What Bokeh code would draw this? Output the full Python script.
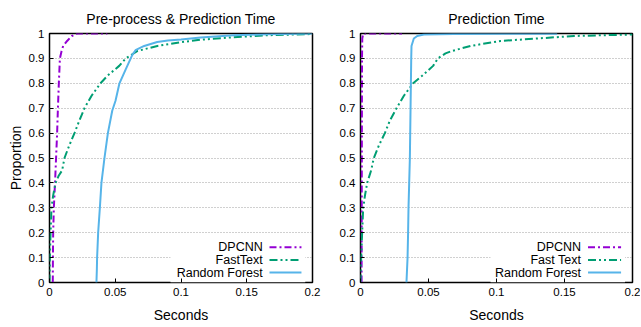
from bokeh.plotting import figure
from bokeh.models import Range1d, FixedTicker, BoxAnnotation, Label
from bokeh.layouts import row
from bokeh.embed import file_html
from bokeh.resources import INLINE

# ---------------- data ----------------
# Left panel: Pre-process & Prediction Time
DPCNN_PP_X = [0.0025, 0.0026, 0.0028, 0.0033, 0.0042, 0.0050, 0.0058, 0.0064, 0.0071,
              0.0079, 0.0092, 0.0104, 0.0134, 0.0170, 0.0210, 0.0440]
DPCNN_PP_Y = [0.0, 0.1, 0.2, 0.3, 0.4, 0.5, 0.6, 0.7, 0.8, 0.9, 0.93, 0.95, 0.97, 0.99, 1.0, 1.0]

FASTTEXT_PP_X = [0.0, 0.0003, 0.0008, 0.0015, 0.0028, 0.0046, 0.0071, 0.0096, 0.0114, 0.0150,
                 0.0190, 0.0227, 0.0266, 0.0320, 0.0388, 0.0440, 0.0530, 0.0580, 0.0670,
                 0.0820, 0.1000, 0.1150, 0.1400, 0.1650, 0.2000]
FASTTEXT_PP_Y = [0.0, 0.1, 0.2, 0.3, 0.35, 0.4, 0.43, 0.45, 0.5, 0.55, 0.6, 0.65, 0.7, 0.75,
                 0.8, 0.83, 0.87, 0.9, 0.93, 0.95, 0.965, 0.975, 0.985, 0.993, 0.998]

RF_PP_X = [0.0357, 0.0360, 0.0362, 0.0370, 0.0383, 0.0395, 0.0418, 0.0444, 0.0477, 0.0502,
           0.0532, 0.0583, 0.0629, 0.0654, 0.0720, 0.0819, 0.0900, 0.1000, 0.1150, 0.1400,
           0.1650, 0.2000]
RF_PP_Y = [0.0, 0.05, 0.1, 0.2, 0.3, 0.4, 0.5, 0.6, 0.69, 0.73, 0.8, 0.86, 0.913, 0.933,
           0.95, 0.966, 0.972, 0.976, 0.984, 0.993, 0.997, 1.0]

# Right panel: Prediction Time
DPCNN_P_X = [0.0008, 0.0009, 0.0010, 0.0011, 0.0013, 0.0020, 0.0305]
DPCNN_P_Y = [0.0, 0.3, 0.6, 0.9, 0.98, 1.0, 1.0]

FASTTEXT_P_X = [0.0, 0.0005, 0.0012, 0.0020, 0.0033, 0.0049, 0.0078, 0.0098, 0.0135, 0.0179,
                0.0216, 0.0265, 0.0319, 0.0387, 0.0453, 0.0534, 0.0569, 0.0625, 0.0674,
                0.0809, 0.1030, 0.1300, 0.1570, 0.2000]
FASTTEXT_P_Y = [0.0, 0.1, 0.2, 0.3, 0.35, 0.4, 0.45, 0.5, 0.55, 0.6, 0.65, 0.7, 0.75, 0.8,
                0.83, 0.87, 0.9, 0.92, 0.93, 0.95, 0.97, 0.98, 0.99, 0.996]

RF_P_X = [0.0338, 0.0346, 0.0350, 0.0353, 0.0358, 0.0363, 0.0368, 0.0373, 0.0375, 0.0392,
          0.0417, 0.0466, 0.0686, 0.1446]
RF_P_Y = [0.0, 0.1, 0.2, 0.3, 0.4, 0.5, 0.7, 0.9, 0.95, 0.98, 0.99, 0.996, 0.998, 0.999]

TITLES = ["Pre-process & Prediction Time", "Prediction Time"]
LEGEND_LABELS_PP = ["DPCNN", "FastText", "Random Forest"]
LEGEND_LABELS_P = ["DPCNN", "Fast Text", "Random Forest"]

X_TICKS = [0.0, 0.05, 0.1, 0.15, 0.2]
X_TICK_LABELS = ["0", "0.05", "0.1", "0.15", "0.2"]
Y_TICKS = [0.0, 0.1, 0.2, 0.3, 0.4, 0.5, 0.6, 0.7, 0.8, 0.9, 1.0]
Y_TICK_LABELS = ["0", "0.1", "0.2", "0.3", "0.4", "0.5", "0.6", "0.7", "0.8", "0.9", "1"]

X_LABEL = "Seconds"
Y_LABEL = "Proportion"

# ---------------- styles ----------------
COLORS = ["#9400D3", "#009E73", "#56B4E9"]
DASHES = ["7 3 2 3", "8 3 2 3 2 3", "solid"]
FONT = "Liberation Sans"


def make_panel(title, series, labels, frame_w, b_left, b_right, ylabel, box_left):
    p = figure(title=title, frame_width=frame_w, frame_height=249,
               x_range=Range1d(0, 0.2), y_range=Range1d(0, 1),
               output_backend="svg", toolbar_location=None,
               min_border_left=b_left, min_border_right=b_right,
               min_border_top=33, min_border_bottom=44)
    p.title.align = "center"
    p.title.text_font = FONT
    p.title.text_font_size = "14px"
    p.title.text_font_style = "normal"
    p.title.text_color = "black"
    p.title.standoff = 14

    p.outline_line_color = "black"
    p.outline_line_width = 1.5
    p.outline_line_alpha = 1.0

    p.xaxis.ticker = FixedTicker(ticks=X_TICKS)
    p.xaxis.major_label_overrides = dict(zip(X_TICKS, X_TICK_LABELS))
    p.yaxis.ticker = FixedTicker(ticks=Y_TICKS)
    p.yaxis.major_label_overrides = dict(zip(Y_TICKS, Y_TICK_LABELS))

    for ax in (p.xaxis, p.yaxis):
        ax.axis_line_color = None
        ax.major_tick_in = 4
        ax.major_tick_out = 0
        ax.major_tick_line_color = "black"
        ax.major_tick_line_width = 1
        ax.minor_tick_line_color = None
        ax.major_label_text_font = FONT
        ax.major_label_text_font_size = "11.5px"
        ax.major_label_text_color = "black"
        ax.major_label_standoff = 5
        ax.axis_label_text_font = FONT
        ax.axis_label_text_font_size = "14px"
        ax.axis_label_text_font_style = "normal"
        ax.axis_label_text_color = "black"

    p.xaxis.axis_label = X_LABEL
    p.xaxis.axis_label_standoff = 8
    if ylabel:
        p.yaxis.axis_label = ylabel
        p.yaxis.axis_label_standoff = 2

    p.xgrid.grid_line_color = None
    p.ygrid.grid_line_color = "#a0a0a0"
    p.ygrid.grid_line_dash = "1 2"
    p.ygrid.grid_line_width = 1

    # opaque key box (as gnuplot draws it)
    box = BoxAnnotation(left=box_left, right=0.1945, bottom=0.0, top=0.175,
                        fill_color="white", fill_alpha=1.0, line_color=None,
                        level="underlay")
    p.add_layout(box)

    for (xs, ys), color, dash in zip(series, COLORS, DASHES):
        p.line(xs, ys, line_color=color, line_width=2, line_dash=dash,
               line_join="round")

    # key: text right-aligned, sample on its right
    key_y = [0.142, 0.0908, 0.0398]
    for lab, color, dash, ky in zip(labels, COLORS, DASHES, key_y):
        p.add_layout(Label(x=0.1622, y=ky, text=lab, text_align="right",
                           text_baseline="middle", text_font=FONT,
                           text_font_size="12.5px", text_color="black"))
        p.line([0.1673, 0.1916], [ky, ky], line_color=color, line_width=2,
               line_dash=dash)
    return p


p1 = make_panel(TITLES[0],
                [(DPCNN_PP_X, DPCNN_PP_Y), (FASTTEXT_PP_X, FASTTEXT_PP_Y), (RF_PP_X, RF_PP_Y)],
                LEGEND_LABELS_PP, 263, 49, 16, Y_LABEL, 0.092)
p2 = make_panel(TITLES[1],
                [(DPCNN_P_X, DPCNN_P_Y), (FASTTEXT_P_X, FASTTEXT_P_Y), (RF_P_X, RF_P_Y)],
                LEGEND_LABELS_P, 272, 32, 8, None, 0.0956)

layout = row(p1, p2)
open("out.html", "w").write(file_html(layout, INLINE))
